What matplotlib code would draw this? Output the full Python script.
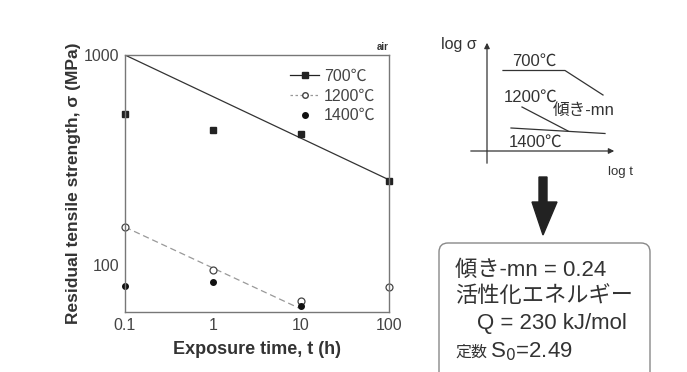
import matplotlib.pyplot as plt
import numpy as np
from matplotlib.patches import FancyBboxPatch, Polygon

plt.rcParams["font.family"] = ["Liberation Sans", "Noto Sans CJK JP", "DejaVu Sans"]

# Data
times = [0.1, 1, 10, 100]
s700 = [527, 440, 419, 251]
s1200 = [152, 95, 68, 79]
t1400 = [0.1, 1, 10]
s1400 = [80, 83, 64]
fit700_t = [0.1, 100]
fit700_s = [1000, 255]
fit1200_t = [0.1, 10]
fit1200_s = [152, 62]

xticks = [0.1, 1, 10, 100]
xticklabels = ["0.1", "1", "10", "100"]
yticks = [100, 1000]
yticklabels = ["100", "1000"]

W, H = 687, 372
fig = plt.figure(figsize=(W / 100, H / 100), dpi=100)
ax = fig.add_axes([125 / W, 1 - 312 / H, 264 / W, 257 / H])

ax.plot(fit700_t, fit700_s, "-", color="#333333", lw=0.9)
ax.plot(fit1200_t, fit1200_s, "--", color="#999999", lw=0.9, dashes=(5, 3))
ax.plot(times, s700, "s", color="#222222", ms=5, clip_on=False)
ax.plot(times, s1200, "o", mfc="white", mec="#444444", ms=5, mew=0.9, clip_on=False)
ax.plot(t1400, s1400, "o", color="#111111", ms=4, clip_on=False)

# legend proxies
ax.plot([], [], "-s", color="#222222", ms=5, lw=0.9, label="700℃")
ax.plot([], [], "--o", color="#999999", mfc="white", mec="#444444", ms=4,
        lw=0.9, dashes=(2, 2), label="1200℃")
ax.plot([], [], "o", color="#111111", ms=4, label="1400℃")
leg = ax.legend(loc="upper right", frameon=False, fontsize=11.5, handlelength=1.8,
                handletextpad=0.3, labelspacing=0.3, borderaxespad=0.45)
for t in leg.get_texts():
    t.set_color("#444444")

ax.set_xscale("log")
ax.set_yscale("log")
ax.set_xlim(0.1, 100)
ax.set_ylim(60, 1000)
ax.set_xticks(xticks)
ax.set_xticklabels(xticklabels)
ax.set_yticks(yticks)
ax.set_yticklabels(yticklabels)
ax.minorticks_off()
ax.tick_params(length=0, labelsize=11.5, labelcolor="#444444", pad=4)
for sp in ax.spines.values():
    sp.set_color("#777777")
    sp.set_linewidth(1.0)
ax.set_xlabel("Exposure time, t (h)", fontsize=13, fontweight="bold",
              color="#333333", labelpad=6)
ax.set_ylabel("Residual tensile strength, σ (MPa)", fontsize=12.5, fontweight="bold",
              color="#333333", labelpad=2)
ax.text(1.0, 1.01, "air", transform=ax.transAxes, ha="right", va="bottom",
        fontsize=7, fontweight="bold", color="#333333")

# schematic panel in pixel coordinates
ov = fig.add_axes([0, 0, 1, 1])
ov.set_xlim(0, W)
ov.set_ylim(H, 0)
ov.axis("off")
ink = "#333333"
ov.annotate("", xy=(487, 40), xytext=(487, 166),
            arrowprops=dict(arrowstyle="-|>", color=ink, lw=0.9, mutation_scale=8))
ov.annotate("", xy=(617, 151), xytext=(468, 151),
            arrowprops=dict(arrowstyle="-|>", color=ink, lw=0.9, mutation_scale=8))
ov.text(441, 45, "log σ", fontsize=11.5, color=ink, ha="left", va="center")
ov.text(608, 172, "log t", fontsize=9.5, color=ink, ha="left", va="center")
ov.plot([503, 565, 603], [70.5, 70.5, 95], color=ink, lw=0.9)
ov.text(512, 61, "700℃", fontsize=12, color=ink, ha="left", va="center")
ov.plot([522, 568], [107, 131], color=ink, lw=0.9)
ov.text(504, 97, "1200℃", fontsize=12, color=ink, ha="left", va="center")
ov.plot([511, 605], [128, 133.5], color=ink, lw=0.9)
ov.text(509, 142, "1400℃", fontsize=12, color=ink, ha="left", va="center")
ov.text(553, 110, "傾き-mn", fontsize=12, color=ink, ha="left", va="center")

# big down arrow
ov.add_patch(Polygon([(539, 177), (547, 177), (547, 202), (557, 202), (543, 235),
                      (532, 202), (539, 202)], closed=True, color="#222222"))

# result box
ov.add_patch(FancyBboxPatch((439, 243), 211, 140, boxstyle="round,pad=0,rounding_size=9",
                            fc="white", ec="#888888", lw=1.0, clip_on=False))
ov.text(455, 270, "傾き-mn = 0.24", fontsize=16, color=ink, ha="left", va="center")
ov.text(455, 297, "活性化エネルギー", fontsize=16, color=ink, ha="left", va="center")
ov.text(477, 324, "Q = 230 kJ/mol", fontsize=16, color=ink, ha="left", va="center")
ov.text(455, 352, "定数", fontsize=11.5, color=ink, ha="left", va="center")
ov.text(490, 352, "S$_0$=2.49", fontsize=16, color=ink, ha="left", va="center")

fig.savefig("out.png", dpi=100, facecolor="white")
